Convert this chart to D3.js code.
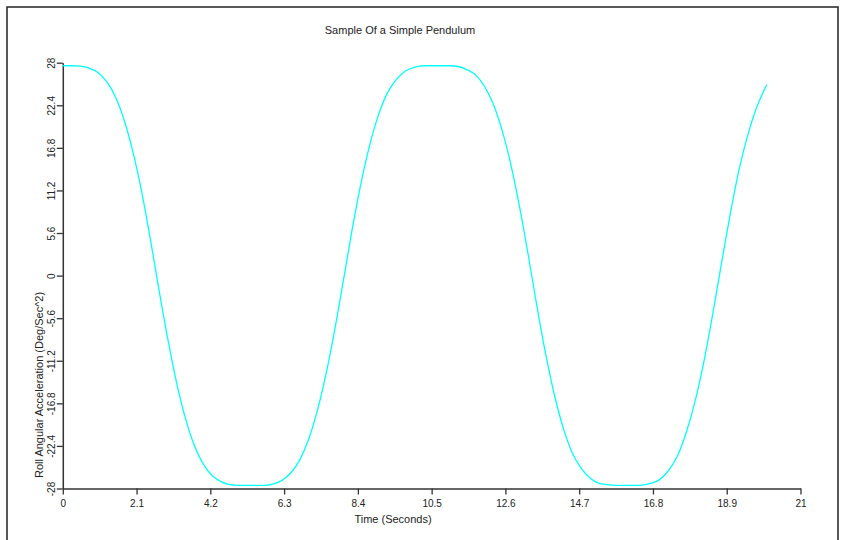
<!DOCTYPE html>
<html>
<head>
<meta charset="utf-8">
<script src="https://cdn.jsdelivr.net/npm/d3@7"></script>
<style>
  html, body { margin: 0; padding: 0; background: #ffffff; }
  svg { display: block; }
  text { font-family: "Liberation Sans", Arial, sans-serif; fill: #222; }
</style>
</head>
<body>
<svg id="chart" width="846" height="540"></svg>
<script>
// ---- data ----
const title = "Sample Of a Simple Pendulum";
const xLabel = "Time (Seconds)";
const yLabel = "Roll Angular Acceleration (Deg/Sec^2)";

const xTicks = [0, 2.1, 4.2, 6.3, 8.4, 10.5, 12.6, 14.7, 16.8, 18.9, 21];
const xTickLabels = ["0", "2.1", "4.2", "6.3", "8.4", "10.5", "12.6", "14.7", "16.8", "18.9", "21"];
const yTicks = [-28, -22.4, -16.8, -11.2, -5.6, 0, 5.6, 11.2, 16.8, 22.4, 28];
const yTickLabels = ["-28", "-22.4", "-16.8", "-11.2", "-5.6", "0", "5.6", "11.2", "16.8", "22.4", "28"];

const time = [
  0, 0.25, 0.5, 0.75, 1.0, 1.25, 1.5, 1.75, 2.0, 2.25, 2.5, 2.75,
  3.0, 3.25, 3.5, 3.75, 4.0, 4.25, 4.5, 4.75, 5.0, 5.25, 5.5, 5.75,
  6.0, 6.25, 6.5, 6.75, 7.0, 7.25, 7.5, 7.75, 8.0, 8.25, 8.5, 8.75,
  9.0, 9.25, 9.5, 9.75, 10.0, 10.25, 10.5, 10.75, 11.0, 11.25, 11.5, 11.75,
  12.0, 12.25, 12.5, 12.75, 13.0, 13.25, 13.5, 13.75, 14.0, 14.25, 14.5, 14.75,
  15.0, 15.25, 15.5, 15.75, 16.0, 16.25, 16.5, 16.75, 17.0, 17.25, 17.5, 17.75,
  18.0, 18.25, 18.5, 18.75, 19.0, 19.25, 19.5, 19.75, 20.04
];
const accel = [
  27.6, 27.6, 27.55, 27.3, 26.7, 25.5, 23.5, 20.4, 16.2, 10.9, 4.6, -2.2,
  -8.6, -14.3, -18.9, -22.4, -24.8, -26.3, -27.1, -27.5, -27.6, -27.6, -27.6, -27.6,
  -27.4, -26.9, -25.9, -24.2, -21.5, -17.7, -12.8, -6.9, -0.3, 6.4, 12.4, 17.4,
  21.3, 24.1, 25.8, 26.9, 27.4, 27.6, 27.6, 27.6, 27.6, 27.5, 27.1, 26.4,
  24.9, 22.6, 19.2, 14.7, 9.1, 2.7, -4.1, -10.4, -15.8, -20.1, -23.3, -25.3,
  -26.6, -27.3, -27.5, -27.6, -27.6, -27.6, -27.55, -27.3, -26.8, -25.6, -23.7, -20.6,
  -16.5, -11.3, -5.1, 1.6, 8.1, 13.9, 18.5, 22.1, 25.1
];

// ---- drawing ----
const svg = d3.select("#chart");

// outer frame
svg.append("path")
  .attr("d", "M7,545 L7,7 L838,7 L838,545")
  .attr("fill", "none")
  .attr("stroke", "#222")
  .attr("stroke-width", 1.5);

const x = d3.scaleLinear().domain([0, 21]).range([62.8, 800.5]);
const y = d3.scaleLinear().domain([-28, 28]).range([488.5, 62.7]);

// title
svg.append("text")
  .attr("x", 400).attr("y", 34)
  .attr("text-anchor", "middle")
  .attr("font-size", 11)
  .text(title);

// x axis
const xAxis = d3.axisBottom(x)
  .tickValues(xTicks)
  .tickFormat((d, i) => xTickLabels[i])
  .tickSize(6)
  .tickSizeOuter(0);
const gx = svg.append("g")
  .attr("transform", `translate(0,${y(-28)})`)
  .call(xAxis);
gx.select(".domain").attr("stroke", "#333").attr("stroke-width", 1.5);
gx.selectAll(".tick line").attr("stroke", "#333").attr("stroke-width", 1.3);
gx.selectAll(".tick text")
  .attr("y", 18).attr("dy", 0)
  .attr("font-size", 10)
  .attr("font-family", "Liberation Sans, Arial, sans-serif")
  .attr("fill", "#222");

// y axis
const yAxis = d3.axisLeft(y)
  .tickValues(yTicks)
  .tickFormat((d, i) => yTickLabels[i])
  .tickSize(6)
  .tickSizeOuter(0);
const gy = svg.append("g")
  .attr("transform", `translate(${x(0)},0)`)
  .call(yAxis);
gy.select(".domain").attr("stroke", "#333").attr("stroke-width", 1.5);
gy.selectAll(".tick line").attr("stroke", "#333").attr("stroke-width", 1.3);
gy.selectAll(".tick text")
  .attr("transform", "rotate(-90)")
  .attr("x", 0).attr("y", -8.3).attr("dy", 0)
  .attr("text-anchor", "middle")
  .attr("font-size", 10)
  .attr("font-family", "Liberation Sans, Arial, sans-serif")
  .attr("fill", "#222");

// axis labels
svg.append("text")
  .attr("x", 393).attr("y", 523)
  .attr("text-anchor", "middle")
  .attr("font-size", 11)
  .text(xLabel);

svg.append("text")
  .attr("transform", "translate(43,478) rotate(-90)")
  .attr("text-anchor", "start")
  .attr("font-size", 11)
  .text(yLabel);

// series
const points = time.map((t, i) => ({ t: t, v: accel[i] }));
const line = d3.line()
  .x(d => x(d.t))
  .y(d => y(d.v))
  .curve(d3.curveMonotoneX);

svg.append("path")
  .datum(points)
  .attr("fill", "none")
  .attr("stroke", "#00ffff")
  .attr("stroke-width", 1.3)
  .attr("d", line);
</script>
</body>
</html>
